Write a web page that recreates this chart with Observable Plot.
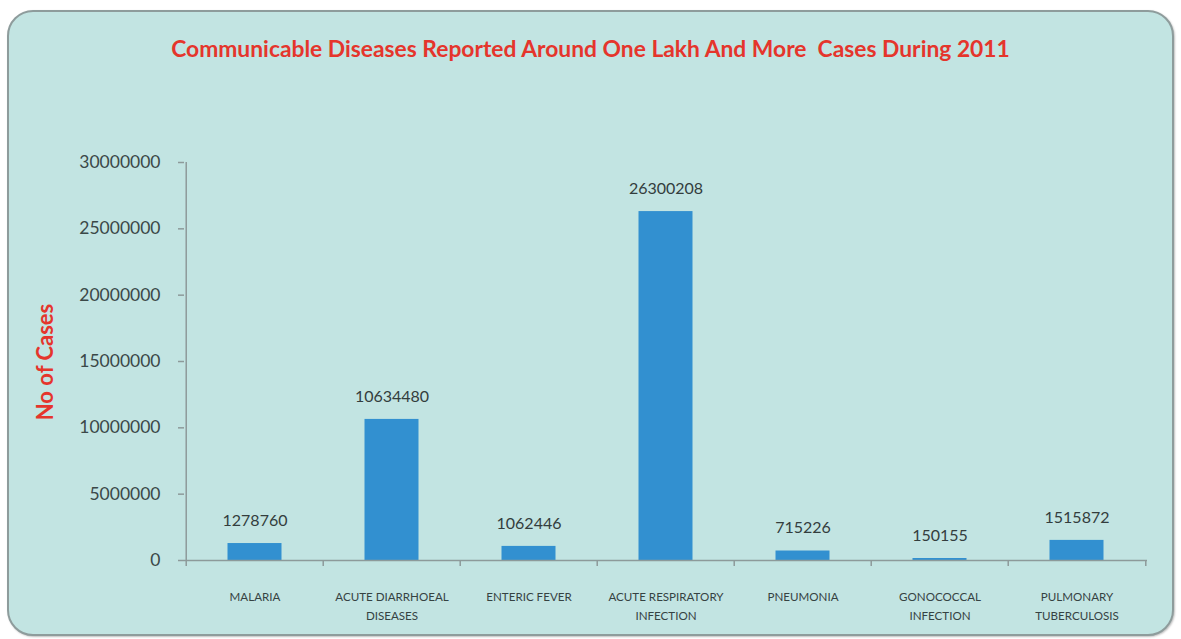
<!DOCTYPE html>
<html>
<head>
<meta charset="utf-8">
<script src="https://cdn.jsdelivr.net/npm/d3@7"></script>
<script src="https://cdn.jsdelivr.net/npm/@observablehq/plot@0.6"></script>
<style>
  html, body { margin: 0; padding: 0; background: #ffffff; }
  body { position: relative; width: 1181px; height: 639px; overflow: hidden; font-family: Lato, "Open Sans", sans-serif; }
  #panel { position: absolute; left: 7px; top: 10px; width: 1163px; height: 622px;
           background: #c2e4e2; border: 2px solid #8e9c9c; border-radius: 26px;
           box-shadow: 1px 1px 2px rgba(0,0,0,0.25); }
  #title { position: absolute; left: 0; top: 34px; width: 1181px; text-align: center;
           color: #e5352c; font-weight: 700; font-size: 20px; line-height: 28px; white-space: pre; }
  #title span { display: inline-block; }
  #chart { position: absolute; left: 0; top: 80px; }
  #ylabel { position: absolute; left: 44px; top: 362px; transform: translate(-50%, -50%) rotate(-90deg);
            color: #e5352c; font-weight: 700; font-size: 22px; white-space: nowrap; }
</style>
</head>
<body>
<div id="panel"></div>
<div id="title"><span id="titletext">Communicable Diseases Reported Around One Lakh And More  Cases During 2011</span></div>
<div id="ylabel">No of Cases</div>
<div id="chart"></div>
<script>
const categories = [
  "MALARIA",
  "ACUTE DIARRHOEAL DISEASES",
  "ENTERIC FEVER",
  "ACUTE RESPIRATORY INFECTION",
  "PNEUMONIA",
  "GONOCOCCAL INFECTION",
  "PULMONARY TUBERCULOSIS"
];
const tickLabels = [
  "MALARIA",
  "ACUTE DIARRHOEAL\nDISEASES",
  "ENTERIC FEVER",
  "ACUTE RESPIRATORY\nINFECTION",
  "PNEUMONIA",
  "GONOCOCCAL\nINFECTION",
  "PULMONARY\nTUBERCULOSIS"
];
const cases = [1278760, 10634480, 1062446, 26300208, 715226, 150155, 1515872];
const yTicks = [0, 5000000, 10000000, 15000000, 20000000, 25000000, 30000000];

const data = categories.map((c, i) => ({category: c, cases: cases[i]}));

const W = 1181, H = 559, mT = 82, mB = 79, mL = 184, mR = 34;
const bw = (W - mL - mR) / categories.length;
const plotH = H - mT - mB;
const labelOf = new Map(categories.map((c, i) => [c, tickLabels[i]]));
const axisColor = "#8d9a9a";

const chart = Plot.plot({
  width: W,
  height: H,
  marginTop: mT,
  marginBottom: mB,
  marginLeft: mL,
  marginRight: mR,
  style: {background: "transparent", fontFamily: "Lato, 'Open Sans', sans-serif", overflow: "visible"},
  x: {type: "band", domain: categories, padding: 0},
  y: {domain: [0, 30000000]},
  marks: [
    Plot.barY(data, {x: "category", y: "cases", fill: "#3290d0", insetLeft: 41.5, insetRight: 41.5}),
    Plot.ruleY([0], {stroke: axisColor, strokeWidth: 1.5}),
    // vertical value axis line (left edge of first band)
    Plot.ruleX(categories.slice(0, 1), {x: d => d, dx: -bw / 2, stroke: axisColor, strokeWidth: 1.5, insetBottom: -6}),
    // category separators below the axis
    Plot.ruleX(categories.slice(1), {x: d => d, dx: -bw / 2, stroke: axisColor, strokeWidth: 1.5, insetTop: plotH, insetBottom: -6}),
    Plot.ruleX(categories.slice(-1), {x: d => d, dx: bw / 2, stroke: axisColor, strokeWidth: 1.5, insetTop: plotH, insetBottom: -6}),
    Plot.axisY({ticks: yTicks, tickFormat: d3.format("d"), tickSize: 6, tickPadding: 18,
      stroke: axisColor, color: "#3b4848", fontSize: 17.5, label: null, strokeWidth: 1.5}),
    Plot.axisX({tickSize: 0, tickPadding: 27, tickFormat: d => labelOf.get(d), fontSize: 11.6,
      lineHeight: 1.64, color: "#354242", label: null}),
    Plot.text(data, {x: "category", y: "cases", text: d => String(d.cases), dy: -23,
      fontSize: 16, fill: "#333d3d"})
  ]
});
document.getElementById("chart").appendChild(chart);

// fit the title to the reference width
const t = document.getElementById("titletext");
const w = t.getBoundingClientRect().width;
const fs = 20 * 839 / w;
document.getElementById("title").style.fontSize = Math.min(fs, 24) + "px";
</script>
</body>
</html>
